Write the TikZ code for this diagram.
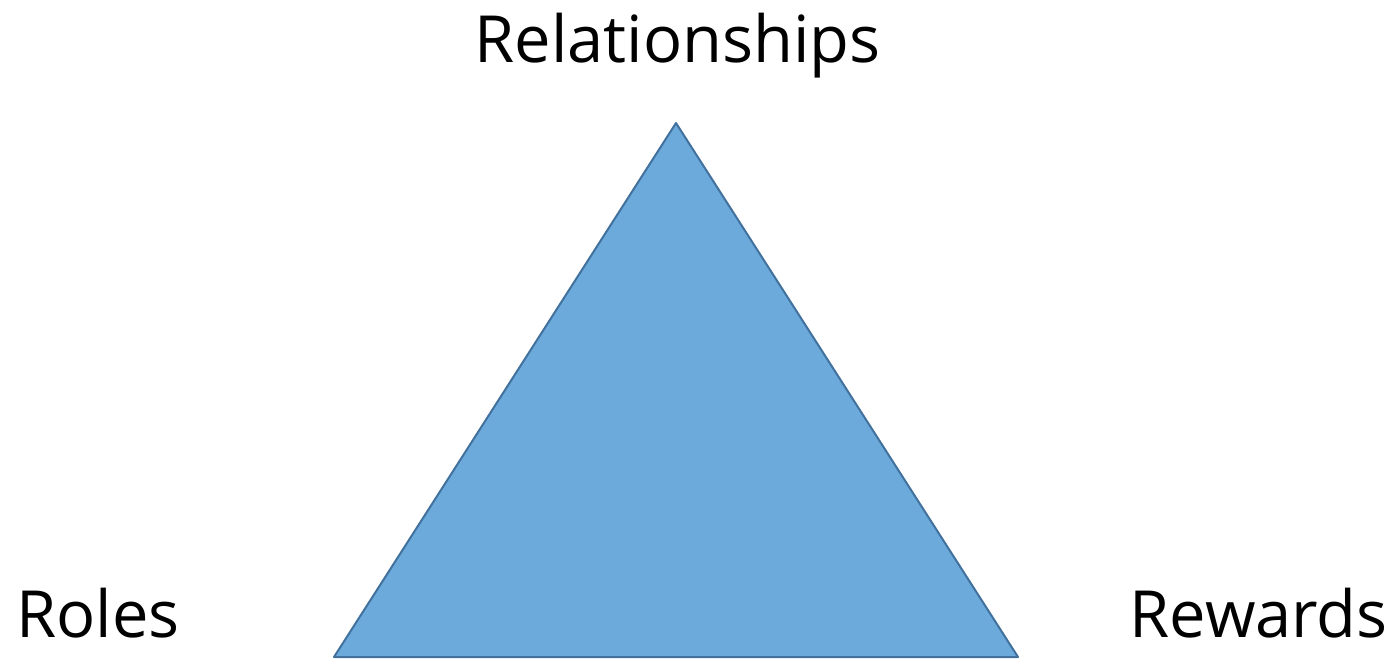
\documentclass[tikz,border=0pt]{standalone}
\usepackage{fontspec}
\setmainfont{Open Sans}
\definecolor{trifill}{RGB}{108,170,219}
\definecolor{triline}{RGB}{65,113,156}
\begin{document}
\begin{tikzpicture}[x=1pt, y=-1pt, line join=round, line cap=round,
	label/.style={inner sep=0pt, font=\fontsize{65}{78}\selectfont}]
			\useasboundingbox (0,0) rectangle (1394,659);
			\path 
			(676,123) coordinate (T)
			(334,657) coordinate (L)
			(1018,657) coordinate (R)
			;
			\filldraw[fill=trifill, draw=triline, line width=2pt] (T) -- (L) -- (R) -- cycle;
			\node[label, anchor=base] (rel) at (677.5,62) {Relationships};
			\node[label, anchor=base west] (roles) at (16,637) {Roles};
			\node[label, anchor=base east] (rew) at (1388,637) {Rewards};
		\end{tikzpicture}
\end{document}
